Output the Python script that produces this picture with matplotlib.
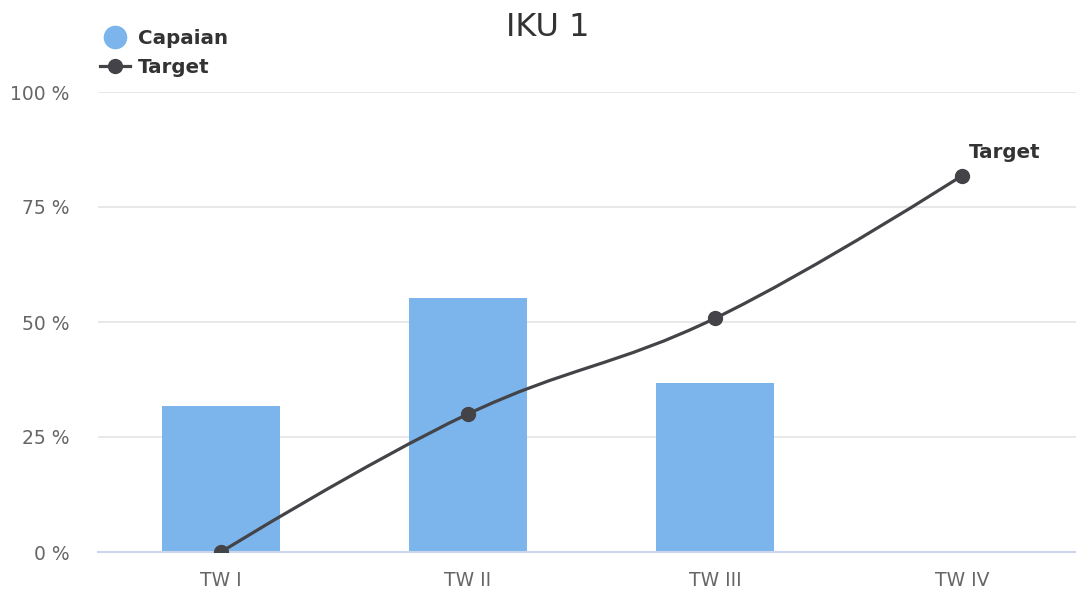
import numpy as np
from matplotlib import pyplot as plt
from matplotlib.path import Path
from matplotlib.patches import PathPatch
from matplotlib.lines import Line2D

categories = ["TW I", "TW II", "TW III", "TW IV"]
capaian = [31.7, 55.2, 36.7, None]
target = [0, 30, 50.8, 81.8]
y_ticks = [0, 25, 50, 75, 100]
y_labels = ["0 %", "25 %", "50 %", "75 %", "100 %"]

bar_color = "#7cb5ec"
line_color = "#434348"


def spline_path(xs, ys, smoothing=1.5):
    # highcharts-style spline through the points
    denom = smoothing + 1
    n = len(xs)
    left = [None] * n
    right = [None] * n
    for i in range(1, n - 1):
        lx, ly = xs[i - 1], ys[i - 1]
        px, py = xs[i], ys[i]
        nx, ny = xs[i + 1], ys[i + 1]
        lcx = (smoothing * px + lx) / denom
        lcy = (smoothing * py + ly) / denom
        rcx = (smoothing * px + nx) / denom
        rcy = (smoothing * py + ny) / denom
        corr = (rcy - lcy) * (rcx - px) / (rcx - lcx) + py - rcy
        lcy += corr
        rcy += corr
        if lcy > ly and lcy > py:
            lcy = max(ly, py)
            rcy = 2 * py - lcy
        elif lcy < ly and lcy < py:
            lcy = min(ly, py)
            rcy = 2 * py - lcy
        if rcy > ny and rcy > py:
            rcy = max(ny, py)
            lcy = 2 * py - rcy
        elif rcy < ny and rcy < py:
            rcy = min(ny, py)
            lcy = 2 * py - rcy
        left[i] = (lcx, lcy)
        right[i] = (rcx, rcy)
    verts = [(xs[0], ys[0])]
    codes = [Path.MOVETO]
    for i in range(1, n):
        c1 = right[i - 1] or (xs[i - 1], ys[i - 1])
        c2 = left[i] or (xs[i], ys[i])
        verts += [c1, c2, (xs[i], ys[i])]
        codes += [Path.CURVE4] * 3
    return Path(verts, codes)


fig = plt.figure(figsize=(10.76, 5.92), dpi=100)
W, H = 1076, 592
ax = fig.add_axes([97.5 / W, 40 / H, (W - 97.5) / W, 460 / H])

x = np.arange(len(categories))
bar_x = [i for i, v in enumerate(capaian) if v is not None]
bar_v = [v for v in capaian if v is not None]
ax.bar(bar_x, bar_v, width=0.474, color=bar_color, zorder=2)

path = spline_path(list(x), target)
ax.add_patch(PathPatch(path, facecolor="none", edgecolor=line_color,
                       lw=2.3, zorder=3))
ax.plot(x, target, ls="", marker="o", markersize=10, color=line_color,
        zorder=4)

ax.annotate("Target", xy=(x[-1], target[-1]), xytext=(31, 17),
            textcoords="offset points", ha="center", va="center",
            fontsize=14.3, fontweight="bold", color="#333333")

ax.set_xlim(-0.5, 3.5 - 9.5 / 247)
ax.set_ylim(0, 100)
ax.set_yticks(y_ticks)
ax.set_yticklabels(y_labels)
ax.set_xticks(x)
ax.set_xticklabels(categories)
ax.tick_params(axis="y", length=0, pad=20, labelsize=13.5, labelcolor="#666666")
ax.tick_params(axis="x", length=0, pad=14, labelsize=13.5, labelcolor="#666666")
ax.grid(axis="y", color="#e6e6e6", lw=1.3, zorder=0)
ax.set_axisbelow(True)
for s in ["top", "right", "left"]:
    ax.spines[s].set_visible(False)
ax.spines["bottom"].set_color("#ccd6eb")
ax.spines["bottom"].set_linewidth(1.5)

fig.text(548 / W, 1 - 27 / H, "IKU 1", ha="center", va="center",
         fontsize=23, color="#333333")

handles = [
    Line2D([], [], ls="", marker="o", markersize=16, color=bar_color),
    Line2D([], [], marker="o", markersize=10, lw=2.3, color=line_color),
]
leg = fig.legend(handles, ["Capaian", "Target"], loc="upper left",
                 bbox_to_anchor=(100 / W, 1 - 29 / H), frameon=False,
                 handlelength=1.5, handletextpad=0.4, labelspacing=0.5,
                 borderpad=0, borderaxespad=0,
                 prop={"size": 14.3, "weight": "bold"})
for t in leg.get_texts():
    t.set_color("#333333")

plt.savefig("out.png", dpi=100)
